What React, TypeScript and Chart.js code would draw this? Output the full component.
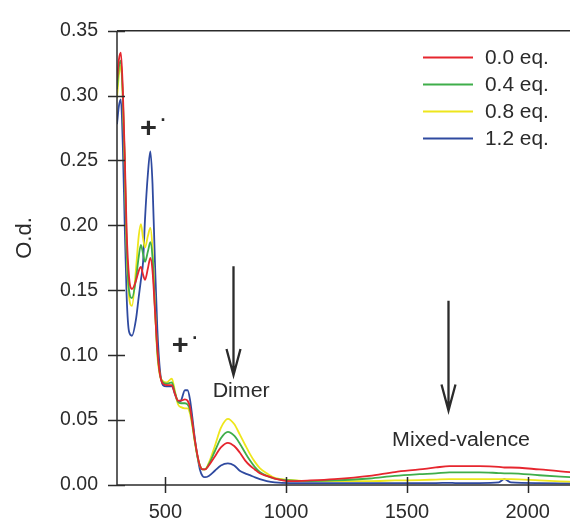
import React, { useEffect, useRef } from "react";
import { Chart, registerables } from "chart.js";

Chart.register(...registerables);

// ---- data ----
const wavelengths = [
  300, 308, 316, 324, 332, 340, 350, 362, 378, 390,
  399, 408, 416, 428, 438, 447, 457, 467, 478, 490,
  505, 527, 540, 553, 565, 581, 592, 602, 612, 622,
  633, 643, 654, 664, 680, 705, 730, 759, 785, 808,
  830, 850, 870, 891, 920, 953, 1015, 1100, 1200, 1345,
  1450, 1552, 1620, 1676, 1700, 1800, 1880, 1903, 1930, 2048,
  2180,
];

const od00 = [
  0.312, 0.328, 0.333, 0.305, 0.255, 0.195, 0.160, 0.151, 0.157, 0.165,
  0.168, 0.162, 0.158, 0.167, 0.175, 0.165, 0.135, 0.105, 0.085, 0.078,
  0.077, 0.077, 0.070, 0.065, 0.065, 0.066, 0.065, 0.060, 0.048, 0.035,
  0.023, 0.015, 0.012, 0.012, 0.015, 0.022, 0.029, 0.0325, 0.030, 0.025,
  0.019, 0.015, 0.012, 0.009, 0.007, 0.005, 0.003, 0.0035, 0.0045, 0.007,
  0.010, 0.012, 0.0135, 0.0145, 0.0145, 0.0145, 0.014, 0.0135, 0.0135, 0.012,
  0.0098,
];

const od04 = [
  0.305, 0.322, 0.327, 0.300, 0.250, 0.185, 0.150, 0.144, 0.158, 0.176,
  0.185, 0.178, 0.172, 0.180, 0.187, 0.175, 0.137, 0.103, 0.085, 0.079,
  0.078, 0.079, 0.071, 0.064, 0.063, 0.063, 0.062, 0.058, 0.047, 0.034,
  0.022, 0.015, 0.012, 0.012, 0.016, 0.026, 0.036, 0.041, 0.038, 0.032,
  0.025, 0.019, 0.014, 0.010, 0.007, 0.005, 0.0035, 0.003, 0.0035, 0.005,
  0.007, 0.0083, 0.009, 0.0098, 0.0098, 0.0098, 0.0092, 0.009, 0.009, 0.0075,
  0.006,
];

const od08 = [
  0.298, 0.316, 0.323, 0.298, 0.245, 0.180, 0.145, 0.138, 0.165, 0.192,
  0.201, 0.190, 0.183, 0.192, 0.198, 0.182, 0.138, 0.100, 0.084, 0.080,
  0.079, 0.082, 0.072, 0.062, 0.060, 0.059, 0.059, 0.055, 0.045, 0.033,
  0.022, 0.015, 0.012, 0.012, 0.017, 0.030, 0.044, 0.051, 0.047, 0.039,
  0.031, 0.024, 0.018, 0.013, 0.009, 0.0055, 0.004, 0.003, 0.003, 0.003,
  0.0035, 0.0038, 0.0042, 0.0045, 0.0045, 0.0045, 0.0045, 0.0045, 0.0045, 0.0035,
  0.0025,
];

const od12 = [
  0.278, 0.292, 0.297, 0.262, 0.200, 0.145, 0.118, 0.115, 0.127, 0.145,
  0.158, 0.172, 0.205, 0.240, 0.257, 0.232, 0.172, 0.120, 0.088, 0.077,
  0.076, 0.076, 0.070, 0.064, 0.065, 0.073, 0.073, 0.066, 0.052, 0.036,
  0.022, 0.012, 0.007, 0.006, 0.007, 0.011, 0.015, 0.0166, 0.015, 0.011,
  0.009, 0.0076, 0.006, 0.0045, 0.003, 0.002, 0.0015, 0.0015, 0.0015, 0.0015,
  0.0015, 0.0015, 0.0015, 0.0017, 0.0015, 0.0015, 0.002, 0.0045, 0.002, 0.0015,
  0.0012,
];

const seriesValues = [od00, od04, od08, od12];
const seriesLabels = ["0.0 eq.", "0.4 eq.", "0.8 eq.", "1.2 eq."];
const seriesColors = ["#e6262e", "#3fae4a", "#eee61c", "#2f4aa0"];

const xTicks = [500, 1000, 1500, 2000];
const yTicks = [0, 0.05, 0.1, 0.15, 0.2, 0.25, 0.3, 0.35];

const yTitle = "O.d.";
// annotation anchors in data units
const radicalMarks = [
  { x: 430, y: 0.274 },
  { x: 562, y: 0.1066 },
];
const arrowMarks = [
  { x: 779, from: 0.1686, to: 0.0847 },
  { x: 1669, from: 0.142, to: 0.0574 },
];
const textMarks = [
  { text: "Dimer", x: 814, y: 0.0718 },
  { text: "Mixed-valence", x: 1724, y: 0.034 },
];

const FONT = '"Liberation Sans", Arial, Helvetica, sans-serif';
const INK = "#2b2b2b";
const STRETCH = 1.07;

function wideText(ctx: CanvasRenderingContext2D, text: string, px: number, py: number) {
  ctx.save();
  ctx.translate(px, py);
  ctx.scale(STRETCH, 1);
  ctx.fillText(text, 0, 0);
  ctx.restore();
}

const decorPlugin = {
  id: "decor",
  afterDraw(chart: any) {
    const { ctx, chartArea: a, scales } = chart;
    const x = scales.x;
    const y = scales.y;
    ctx.save();
    ctx.strokeStyle = INK;
    ctx.lineWidth = 1.5;
    ctx.lineCap = "butt";
    ctx.beginPath();
    ctx.moveTo(a.left, a.top);
    ctx.lineTo(a.left, a.bottom);
    ctx.lineTo(a.right, a.bottom);
    ctx.moveTo(a.left, a.top);
    ctx.lineTo(a.right, a.top);
    yTicks.forEach((v) => {
      const py = Math.round(y.getPixelForValue(v)) + 0.5;
      ctx.moveTo(a.left - 9, py);
      ctx.lineTo(a.left + 8, py);
    });
    xTicks.forEach((v) => {
      const px = Math.round(x.getPixelForValue(v)) + 0.5;
      ctx.moveTo(px, a.bottom - 8);
      ctx.lineTo(px, a.bottom + 8);
    });
    ctx.stroke();

    // y title
    ctx.fillStyle = INK;
    ctx.font = `22px ${FONT}`;
    ctx.textAlign = "center";
    ctx.textBaseline = "middle";
    ctx.save();
    ctx.translate(25, 238);
    ctx.rotate(-Math.PI / 2);
    ctx.fillText(yTitle, 0, 0);
    ctx.restore();

    // radical cation marks
    radicalMarks.forEach((m) => {
      const px = x.getPixelForValue(m.x);
      const py = y.getPixelForValue(m.y);
      ctx.font = `bold 27px ${FONT}`;
      ctx.textAlign = "center";
      ctx.textBaseline = "middle";
      wideText(ctx, "+", px, py);
      ctx.font = `bold 18px ${FONT}`;
      ctx.fillText("·", px + 15, py - 8);
    });

    // arrows
    ctx.lineWidth = 2.3;
    arrowMarks.forEach((m) => {
      const px = Math.round(x.getPixelForValue(m.x)) + 0.5;
      const top = y.getPixelForValue(m.from);
      const tip = y.getPixelForValue(m.to);
      ctx.beginPath();
      ctx.moveTo(px, top);
      ctx.lineTo(px, tip);
      ctx.moveTo(px - 7, tip - 26);
      ctx.lineTo(px, tip);
      ctx.lineTo(px + 7, tip - 26);
      ctx.stroke();
    });

    // text labels
    ctx.font = `20px ${FONT}`;
    ctx.textAlign = "center";
    ctx.textBaseline = "middle";
    textMarks.forEach((m) => {
      wideText(ctx, m.text, x.getPixelForValue(m.x), y.getPixelForValue(m.y));
    });

    // legend
    const ds = chart.data.datasets;
    ds.forEach((d: any, i: number) => {
      const ry = 57.5 + i * 27;
      ctx.strokeStyle = d.borderColor;
      ctx.lineWidth = 1.8;
      ctx.beginPath();
      ctx.moveTo(423, ry);
      ctx.lineTo(473, ry);
      ctx.stroke();
      ctx.fillStyle = INK;
      ctx.font = `19.5px ${FONT}`;
      ctx.textAlign = "left";
      ctx.textBaseline = "middle";
      wideText(ctx, d.label, 485, ry + 1);
    });
    ctx.restore();
  },
};

export default function App() {
  const ref = useRef<HTMLCanvasElement | null>(null);
  useEffect(() => {
    if (!ref.current) return;
    const chart = new Chart(ref.current, {
      type: "line",
      data: {
        datasets: seriesValues.map((vals, i) => ({
          label: seriesLabels[i],
          data: wavelengths.map((w, j) => ({ x: w, y: vals[j] })),
          borderColor: seriesColors[i],
          backgroundColor: seriesColors[i],
          borderWidth: 1.8,
          pointRadius: 0,
          fill: false,
          cubicInterpolationMode: "monotone" as const,
        })),
      },
      options: {
        animation: false,
        responsive: false,
        events: [],
        layout: { padding: { top: 22, left: 0, right: 0, bottom: 0 } },
        plugins: {
          legend: { display: false },
          tooltip: { enabled: false },
        },
        scales: {
          x: {
            type: "linear",
            min: 300,
            max: 2175,
            grid: { display: false, drawTicks: false },
            border: { display: false },
            afterBuildTicks: (s: any) => {
              s.ticks = xTicks.map((v) => ({ value: v }));
            },
            afterFit: (s: any) => {
              s.height = 41;
            },
            ticks: {
              autoSkip: false,
              maxRotation: 0,
              padding: 15,
              color: INK,
              font: { family: FONT, size: 20 },
              callback: (v: any) => String(v),
            },
          },
          y: {
            type: "linear",
            min: 0,
            max: 0.35,
            grid: { display: false, drawTicks: false },
            border: { display: false },
            afterBuildTicks: (s: any) => {
              s.ticks = yTicks.map((v) => ({ value: v }));
            },
            afterFit: (s: any) => {
              s.width = 117;
            },
            ticks: {
              autoSkip: false,
              padding: 19,
              color: INK,
              font: { family: FONT, size: 19.5 },
              callback: (v: any) => Number(v).toFixed(2),
            },
          },
        },
      },
      plugins: [decorPlugin],
    });
    return () => chart.destroy();
  }, []);
  return (
    <div style={{ position: "absolute", left: 0, top: 0, width: 570, height: 526, background: "#fff" }}>
      <canvas ref={ref} width={570} height={526} style={{ display: "block" }} />
    </div>
  );
}
